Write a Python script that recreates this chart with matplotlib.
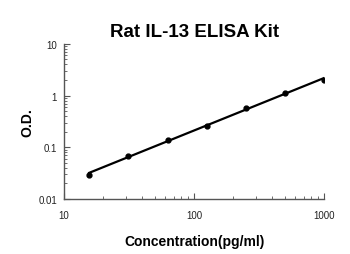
import numpy as np
import matplotlib.pyplot as plt
from matplotlib.ticker import LogLocator, FixedLocator, FixedFormatter, NullFormatter

plt.rcParams['font.family'] = ['Liberation Sans', 'DejaVu Sans']

conc = [15.6, 31.25, 62.5, 125, 250, 500, 1000]
od = [0.029, 0.068, 0.14, 0.255, 0.58, 1.1, 2.02]

xticks = [10, 100, 1000]
xlabels = ['10', '100', '1000']
yticks = [0.01, 0.1, 1, 10]
ylabels = ['0.01', '0.1', '1', '10']

# power fit, straight in log-log
k, b = np.polyfit(np.log10(conc), np.log10(od), 1)
xfit = np.array([conc[0], conc[-1]])
yfit = 10 ** (k * np.log10(xfit) + b)

fig = plt.figure(figsize=(3.5, 2.55), dpi=100)
ax = fig.add_axes([0.183, 0.216, 0.743, 0.608])

ax.plot(xfit, yfit, color='black', lw=1.6)
ax.plot(conc, od, 'o', color='black', ms=3.5)

ax.set_xscale('log')
ax.set_yscale('log')
ax.set_xlim(10, 1000)
ax.set_ylim(0.01, 10)

ax.xaxis.set_major_locator(FixedLocator(xticks))
ax.xaxis.set_major_formatter(FixedFormatter(xlabels))
ax.yaxis.set_major_locator(FixedLocator(yticks))
ax.yaxis.set_major_formatter(FixedFormatter(ylabels))
ax.xaxis.set_minor_locator(LogLocator(base=10, subs=np.arange(2, 10)))
ax.yaxis.set_minor_locator(LogLocator(base=10, subs=np.arange(2, 10)))
ax.xaxis.set_minor_formatter(NullFormatter())
ax.yaxis.set_minor_formatter(NullFormatter())

ax.tick_params(which='both', direction='in', labelsize=7, colors='#555555', labelcolor='#222222')
ax.tick_params(which='major', length=4, width=0.8)
ax.tick_params(which='minor', length=2.5, width=0.6)
ax.tick_params(axis='x', pad=8)
ax.tick_params(axis='y', pad=5)

for s in ['top', 'right']:
    ax.spines[s].set_visible(False)
for s in ['left', 'bottom']:
    ax.spines[s].set_color('#555555')
    ax.spines[s].set_linewidth(1.0)

ax.set_title('Rat IL-13 ELISA Kit', fontsize=13.5, fontweight='bold', pad=6)
ax.set_xlabel('Concentration(pg/ml)', fontsize=10, fontweight='bold', labelpad=10)
ax.set_ylabel('O.D.', fontsize=10, fontweight='bold', labelpad=3)

fig.savefig('out.png', dpi=100)
